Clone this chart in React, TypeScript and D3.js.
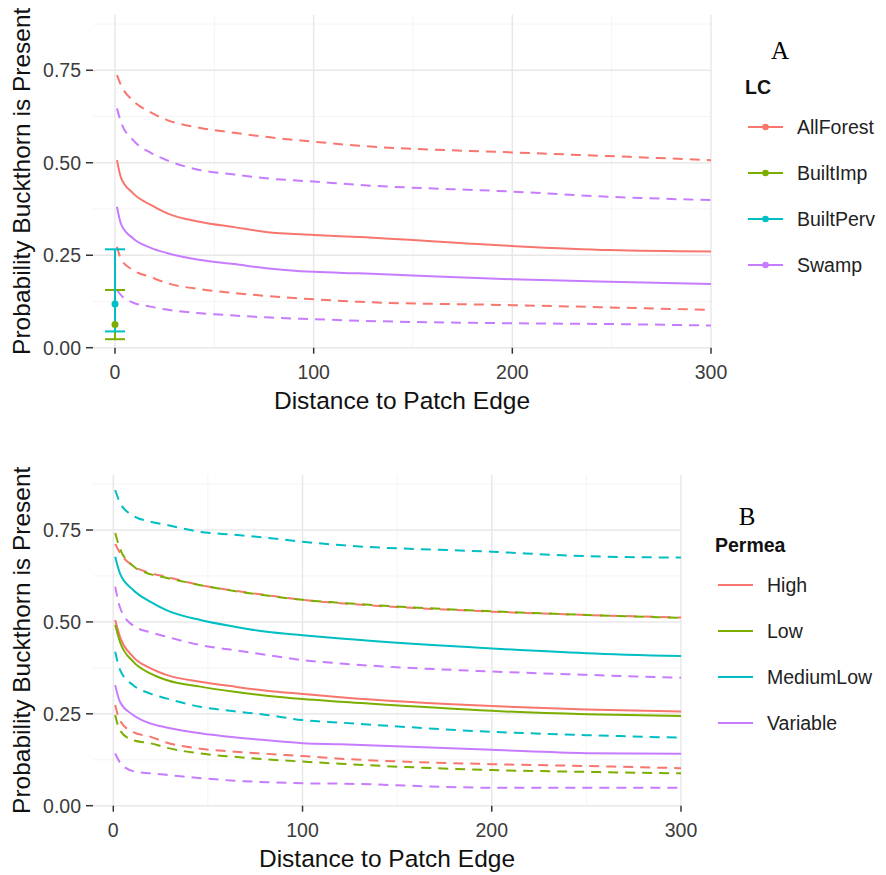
import * as d3 from "d3";

// ggplot default hue palette
const COLORS = ["#F8766D", "#7CAE00", "#00BFC4", "#C77CFF"];
const FONT = "'Liberation Sans', Arial, sans-serif";

const yTicks = [0, 0.25, 0.5, 0.75];
const yMinor = [0.125, 0.375, 0.625, 0.875];
const xTicks = [0, 100, 200, 300];
const xMinor = [50, 150, 250];

// ---- Panel A (LC) ----
const lcLevels = ["AllForest", "BuiltImp", "BuiltPerv", "Swamp"];
const distA = [1, 3, 9, 18, 26, 43, 60, 76, 100, 123, 200, 249, 300];
const allForestFit = [0.507, 0.46, 0.418, 0.386, 0.364, 0.34, 0.326, 0.313, 0.305, 0.299, 0.275, 0.264, 0.26];
const allForestHi = [0.737, 0.71, 0.668, 0.636, 0.616, 0.594, 0.581, 0.57, 0.557, 0.546, 0.528, 0.518, 0.507];
const allForestLo = [0.273, 0.24, 0.21, 0.191, 0.175, 0.158, 0.148, 0.14, 0.131, 0.124, 0.115, 0.109, 0.102];
const swampFit = [0.381, 0.335, 0.296, 0.27, 0.256, 0.237, 0.226, 0.215, 0.205, 0.201, 0.185, 0.178, 0.172];
const swampHi = [0.647, 0.61, 0.562, 0.527, 0.507, 0.48, 0.468, 0.458, 0.449, 0.44, 0.422, 0.408, 0.399];
const swampLo = [0.156, 0.142, 0.122, 0.111, 0.103, 0.093, 0.087, 0.082, 0.077, 0.073, 0.066, 0.064, 0.06];
// point estimates at distance 0 with intervals
const builtLevels = ["BuiltImp", "BuiltPerv"];
const builtEst = [0.063, 0.118];
const builtLow = [0.023, 0.044];
const builtHigh = [0.156, 0.266];

// ---- Panel B (Permea) ----
const permLevels = ["High", "Low", "MediumLow", "Variable"];
const distB = [1, 3.5, 10.5, 19.5, 28, 46, 64, 81, 100, 120, 200, 250, 300];
const highFit = [0.505, 0.46, 0.405, 0.374, 0.356, 0.337, 0.324, 0.313, 0.304, 0.295, 0.271, 0.262, 0.256];
const highHi = [0.712, 0.688, 0.652, 0.633, 0.623, 0.6, 0.585, 0.573, 0.56, 0.551, 0.528, 0.519, 0.512];
const highLo = [0.274, 0.232, 0.2, 0.188, 0.172, 0.155, 0.147, 0.141, 0.135, 0.128, 0.113, 0.108, 0.102];
const lowFit = [0.492, 0.446, 0.392, 0.36, 0.342, 0.324, 0.31, 0.299, 0.29, 0.283, 0.258, 0.249, 0.244];
const lowHi = [0.742, 0.7, 0.652, 0.63, 0.62, 0.6, 0.584, 0.572, 0.56, 0.552, 0.529, 0.519, 0.511];
const lowLo = [0.247, 0.205, 0.178, 0.17, 0.158, 0.142, 0.133, 0.126, 0.12, 0.114, 0.097, 0.092, 0.088];
const medLowFit = [0.677, 0.632, 0.587, 0.555, 0.532, 0.505, 0.487, 0.473, 0.464, 0.455, 0.428, 0.415, 0.407];
const medLowHi = [0.859, 0.825, 0.789, 0.773, 0.764, 0.745, 0.737, 0.729, 0.718, 0.709, 0.691, 0.679, 0.675];
const medLowLo = [0.419, 0.37, 0.328, 0.305, 0.292, 0.269, 0.257, 0.247, 0.233, 0.226, 0.201, 0.192, 0.185];
const variableFit = [0.328, 0.283, 0.247, 0.224, 0.213, 0.197, 0.186, 0.178, 0.17, 0.167, 0.152, 0.143, 0.141];
const variableHi = [0.596, 0.54, 0.49, 0.472, 0.46, 0.437, 0.423, 0.41, 0.396, 0.387, 0.365, 0.356, 0.348];
const variableLo = [0.142, 0.118, 0.094, 0.088, 0.084, 0.075, 0.068, 0.064, 0.061, 0.06, 0.049, 0.049, 0.049];

type Series = { color: string; dist: number[]; vals: number[]; dashed: boolean };

function Panel({ x, y, series, children }: { x: d3.ScaleLinear<number, number>; y: d3.ScaleLinear<number, number>; series: Series[]; children?: any }) {
  const [x0, x1] = x.range();
  const [yb, yt] = y.range();
  const midX = (x0 + x1) / 2;
  const midY = (yb + yt) / 2;
  return (
    <g>
      {yMinor.map((t) => (
        <line key={"ym" + t} x1={x0} x2={x1} y1={y(t)} y2={y(t)} stroke="#F4F4F4" strokeWidth={1} />
      ))}
      {xMinor.map((t) => (
        <line key={"xm" + t} x1={x(t)} x2={x(t)} y1={yt} y2={yb} stroke="#F4F4F4" strokeWidth={1} />
      ))}
      {yTicks.map((t) => (
        <line key={"yg" + t} x1={x0} x2={x1} y1={y(t)} y2={y(t)} stroke="#E8E8E8" strokeWidth={1.5} />
      ))}
      {xTicks.map((t) => (
        <line key={"xg" + t} x1={x(t)} x2={x(t)} y1={yt} y2={yb} stroke="#E8E8E8" strokeWidth={1.5} />
      ))}
      {series.map((s, i) => {
        const line = d3
          .line<number>()
          .x((_, j) => x(s.dist[j]))
          .y((v) => y(v))
          .curve(d3.curveMonotoneX);
        return (
          <path
            key={i}
            d={line(s.vals) || ""}
            fill="none"
            stroke={s.color}
            strokeWidth={2}
            strokeDasharray={s.dashed ? "10 7" : undefined}
          />
        );
      })}
      {children}
      {yTicks.map((t) => (
        <g key={"yt" + t}>
          <line x1={x0 - 7} x2={x0} y1={y(t)} y2={y(t)} stroke="#333" strokeWidth={1.5} />
          <text x={x0 - 12} y={y(t)} dy="0.36em" textAnchor="end" fontSize={19.5} fill="#3C3C3C" fontFamily={FONT}>
            {d3.format(".2f")(t)}
          </text>
        </g>
      ))}
      {xTicks.map((t) => (
        <g key={"xt" + t}>
          <line x1={x(t)} x2={x(t)} y1={yb} y2={yb + 6} stroke="#333" strokeWidth={1.5} />
          <text x={x(t)} y={yb + 24} dy="0.36em" textAnchor="middle" fontSize={19.5} fill="#3C3C3C" fontFamily={FONT}>
            {t}
          </text>
        </g>
      ))}
      <text x={midX} y={yb + 52} dy="0.36em" textAnchor="middle" fontSize={24.5} fill="#111" fontFamily={FONT}>
        Distance to Patch Edge
      </text>
      <text
        transform={`translate(21,${midY}) rotate(-90)`}
        dy="0.36em"
        textAnchor="middle"
        fontSize={24.5}
        fill="#111"
        fontFamily={FONT}
      >
        Probability Buckthorn is Present
      </text>
    </g>
  );
}

function Legend({ x, y, title, labels, points, textX }: { x: number; y: number; title: string; labels: string[]; points: boolean; textX: number }) {
  return (
    <g>
      <text x={x} y={y} dy="0.36em" fontSize={19.5} fontWeight="bold" fill="#111" fontFamily={FONT}>
        {title}
      </text>
      {labels.map((l, i) => {
        const cy = y + 40 + i * 46;
        return (
          <g key={l}>
            <line x1={x + 3} x2={x + 38} y1={cy} y2={cy} stroke={COLORS[i]} strokeWidth={2} />
            {points && <circle cx={x + 20.5} cy={cy} r={3.3} fill={COLORS[i]} />}
            <text x={textX} y={cy} dy="0.36em" fontSize={19.5} fill="#222" fontFamily={FONT}>
              {l}
            </text>
          </g>
        );
      })}
    </g>
  );
}

export default function App() {
  const xA = d3.scaleLinear().domain([0, 300]).range([115, 711]);
  const yA = d3.scaleLinear().domain([0, 0.9]).range([347.7, 14.8]);
  const xAFull = xA.copy().domain([xA.invert(93), 300]).range([93, 711]);

  const xB = d3.scaleLinear().domain([0, 300]).range([113.3, 681]);
  const yB = d3.scaleLinear().domain([0, 0.9]).range([805.7, 474.9]);
  const xBFull = xB.copy().domain([xB.invert(93), 300]).range([93, 681]);

  const seriesA: Series[] = [
    { color: COLORS[0], dist: distA, vals: allForestHi, dashed: true },
    { color: COLORS[0], dist: distA, vals: allForestLo, dashed: true },
    { color: COLORS[3], dist: distA, vals: swampHi, dashed: true },
    { color: COLORS[3], dist: distA, vals: swampLo, dashed: true },
    { color: COLORS[0], dist: distA, vals: allForestFit, dashed: false },
    { color: COLORS[3], dist: distA, vals: swampFit, dashed: false },
  ];

  const seriesB: Series[] = [
    { color: COLORS[0], dist: distB, vals: highHi, dashed: true },
    { color: COLORS[0], dist: distB, vals: highLo, dashed: true },
    { color: COLORS[1], dist: distB, vals: lowHi, dashed: true },
    { color: COLORS[1], dist: distB, vals: lowLo, dashed: true },
    { color: COLORS[2], dist: distB, vals: medLowHi, dashed: true },
    { color: COLORS[2], dist: distB, vals: medLowLo, dashed: true },
    { color: COLORS[3], dist: distB, vals: variableHi, dashed: true },
    { color: COLORS[3], dist: distB, vals: variableLo, dashed: true },
    { color: COLORS[0], dist: distB, vals: highFit, dashed: false },
    { color: COLORS[1], dist: distB, vals: lowFit, dashed: false },
    { color: COLORS[2], dist: distB, vals: medLowFit, dashed: false },
    { color: COLORS[3], dist: distB, vals: variableFit, dashed: false },
  ];

  const builtColor = (name: string) => COLORS[lcLevels.indexOf(name)];

  return (
    <div style={{ position: "absolute", left: 0, top: 0 }}>
      <svg width={886} height={875} style={{ display: "block", background: "#fff" }}>
        <Panel x={xAFull} y={yA} series={seriesA}>
          {builtLevels.map((b, i) => (
            <g key={"eb" + b} stroke={builtColor(b)} strokeWidth={2}>
              <line x1={xA(0)} x2={xA(0)} y1={yA(builtLow[i])} y2={yA(builtHigh[i])} />
              <line x1={xA(0) - 10} x2={xA(0) + 10} y1={yA(builtLow[i])} y2={yA(builtLow[i])} />
              <line x1={xA(0) - 10} x2={xA(0) + 10} y1={yA(builtHigh[i])} y2={yA(builtHigh[i])} />
            </g>
          ))}
          {builtLevels.map((b, i) => (
            <circle key={"pt" + b} cx={xA(0)} cy={yA(builtEst[i])} r={3.5} fill={builtColor(b)} />
          ))}
        </Panel>
        <Panel x={xBFull} y={yB} series={seriesB} />

        <text x={780} y={50} dy="0.36em" textAnchor="middle" fontSize={25} fontFamily="'Liberation Serif', 'Times New Roman', serif" fill="#000">
          A
        </text>
        <Legend x={745} y={87} title="LC" labels={lcLevels} points={true} textX={797} />

        <text x={747} y={516} dy="0.36em" textAnchor="middle" fontSize={25} fontFamily="'Liberation Serif', 'Times New Roman', serif" fill="#000">
          B
        </text>
        <Legend x={715} y={545} title="Permea" labels={permLevels} points={false} textX={767} />
      </svg>
    </div>
  );
}
